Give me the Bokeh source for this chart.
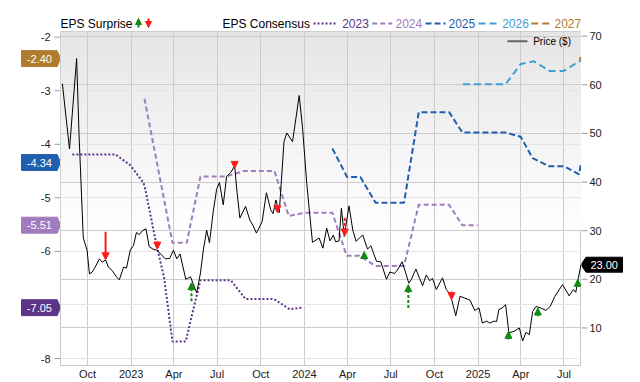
import pandas as pd
from bokeh.plotting import figure
from bokeh.layouts import column, row
from bokeh.core.properties import value
from bokeh.models import (Range1d, FixedTicker, Grid, Arrow, NormalHead, BoxAnnotation, Label)
from bokeh.embed import file_html
from bokeh.resources import INLINE

# ---------------- data ----------------
price_dates = [
    "2022-08-09", "2022-08-24", "2022-09-08", "2022-09-13", "2022-09-22", "2022-09-30",
    "2022-10-05", "2022-10-11", "2022-10-17", "2022-10-26", "2022-11-01", "2022-11-08",
    "2022-11-14", "2022-11-22", "2022-12-01", "2022-12-07", "2022-12-16", "2022-12-22",
    "2022-12-30", "2023-01-06", "2023-01-12", "2023-01-18", "2023-01-25", "2023-02-01",
    "2023-02-08", "2023-02-16", "2023-02-24", "2023-03-06", "2023-03-14", "2023-03-23",
    "2023-03-31", "2023-04-07", "2023-04-14", "2023-04-26", "2023-05-06", "2023-05-12",
    "2023-05-19", "2023-05-27", "2023-06-02", "2023-06-09", "2023-06-15", "2023-06-23",
    "2023-06-30", "2023-07-06", "2023-07-14", "2023-07-21", "2023-07-30", "2023-08-07",
    "2023-08-12", "2023-08-18", "2023-08-30", "2023-09-08", "2023-09-15", "2023-09-22",
    "2023-10-04", "2023-10-13", "2023-10-22", "2023-10-27", "2023-11-02", "2023-11-09",
    "2023-11-19", "2023-11-25", "2023-12-07", "2023-12-14", "2023-12-21", "2023-12-28",
    "2024-01-06", "2024-01-18", "2024-02-01", "2024-02-09", "2024-02-17", "2024-02-24",
    "2024-03-02", "2024-03-07", "2024-03-14", "2024-03-19", "2024-03-25", "2024-04-04",
    "2024-04-12", "2024-04-19", "2024-04-26", "2024-05-03", "2024-05-13", "2024-05-20",
    "2024-06-01", "2024-06-10", "2024-06-22", "2024-06-29", "2024-07-09", "2024-07-15",
    "2024-07-25", "2024-08-01", "2024-08-08", "2024-08-13", "2024-08-23", "2024-09-06",
    "2024-09-14", "2024-09-21", "2024-09-27", "2024-10-05", "2024-10-18", "2024-10-26",
    "2024-11-04", "2024-11-15", "2024-11-24", "2024-12-10", "2024-12-15", "2024-12-25",
    "2025-01-03", "2025-01-10", "2025-01-19", "2025-01-26", "2025-02-04", "2025-02-09",
    "2025-02-14", "2025-02-21", "2025-02-28", "2025-03-07", "2025-03-18", "2025-03-29",
    "2025-04-05", "2025-04-12", "2025-04-19", "2025-04-26", "2025-05-03", "2025-05-13",
    "2025-05-24", "2025-06-02", "2025-06-12", "2025-06-28", "2025-07-12", "2025-07-21",
    "2025-07-26", "2025-07-30", "2025-08-06"]
price_values = [
    60.2, 46.8, 65.4, 50.0, 28.5, 26.0,
    21.1, 21.5, 22.5, 24.2, 23.5, 24.0,
    22.5, 21.8, 20.5, 19.9, 22.5, 22.3,
    26.0, 27.0, 29.6, 29.2, 30.0, 30.4,
    26.7, 26.2, 26.0, 25.0, 24.2, 24.3,
    26.0, 24.2, 25.2, 20.0, 20.5, 19.0,
    17.2, 21.3, 26.0, 30.1, 27.5, 34.0,
    38.5, 39.9, 35.3, 41.1, 42.0, 43.3,
    38.0, 32.6, 35.0, 32.2, 31.0, 29.5,
    31.9, 37.8, 34.3, 33.5, 36.3, 33.7,
    48.3, 50.1, 48.3, 53.0, 57.8, 51.3,
    39.7, 27.6, 28.5, 26.4, 30.5, 27.9,
    29.1, 27.7, 27.9, 34.6, 28.8, 35.1,
    30.1, 27.8, 28.5, 29.1, 26.2, 26.9,
    23.7, 23.6, 20.0, 21.5, 21.2, 21.9,
    23.6, 21.5, 19.2, 19.9, 22.1, 18.7,
    20.9, 19.7, 20.2, 17.9, 20.3, 17.9,
    16.8, 12.5, 16.5, 15.9, 15.7, 13.6,
    14.1, 11.0, 11.4, 11.0, 11.4, 11.3,
    13.8, 14.1, 14.8, 9.0, 9.3, 10.0,
    7.3, 9.1, 8.6, 13.4, 14.4, 14.1,
    13.6, 14.4, 16.5, 18.9, 16.6, 17.9,
    17.3, 19.7, 23.0]

eps2023_dates = ["2022-08-30", "2022-11-29", "2022-12-30", "2023-01-27", "2023-01-31",
                 "2023-02-24", "2023-03-11", "2023-03-29", "2023-04-26", "2023-05-10",
                 "2023-05-27", "2023-07-30", "2023-08-30", "2023-10-29", "2023-12-01",
                 "2023-12-28"]
eps2023_values = [-4.19, -4.19, -4.39, -4.72, -4.85, -5.91, -6.47, -7.68, -7.68, -7.15,
                  -6.54, -6.54, -6.89, -6.89, -7.08, -7.05]

eps2024_dates = ["2023-01-29", "2023-03-29", "2023-04-28", "2023-05-27", "2023-07-21",
                 "2023-08-26", "2023-10-30", "2023-11-29", "2023-12-31", "2024-02-29",
                 "2024-03-30", "2024-04-25", "2024-05-30", "2024-07-29", "2024-08-29",
                 "2024-11-01", "2024-11-29", "2024-12-31"]
eps2024_values = [-3.15, -5.84, -5.84, -4.60, -4.60, -4.50, -4.50, -5.34, -5.28, -5.28,
                  -6.08, -6.08, -6.27, -6.27, -5.13, -5.13, -5.51, -5.51]

eps2025_dates = ["2024-02-29", "2024-03-31", "2024-04-28", "2024-05-30", "2024-07-29",
                 "2024-08-29", "2024-11-01", "2024-11-29", "2025-02-28", "2025-04-01",
                 "2025-04-26", "2025-05-31", "2025-07-01", "2025-08-02", "2025-08-06"]
eps2025_values = [-4.08, -4.61, -4.61, -5.09, -5.09, -3.40, -3.40, -3.78, -3.78, -3.86,
                  -4.26, -4.41, -4.41, -4.56, -4.34]

eps2026_dates = ["2024-11-30", "2025-02-28", "2025-04-01", "2025-04-29", "2025-05-31",
                 "2025-07-01", "2025-08-06"]
eps2026_values = [-2.88, -2.88, -2.50, -2.45, -2.63, -2.63, -2.43]

eps2027_dates = ["2025-08-06"]
eps2027_values = [-2.40]

surprise_dates = ["2022-11-08", "2023-02-25", "2023-05-08", "2023-08-07", "2023-11-05",
                  "2024-03-26", "2024-05-06", "2024-08-07", "2024-11-06", "2025-03-06",
                  "2025-05-07", "2025-07-30"]
surprise_beat = [False, False, True, False, False, False, True, True, False, True, True, True]
surprise_price = [24.0, 26.2, 19.3, 42.8, 33.7, 28.9, 25.7, 18.9, 15.8, 9.3, 14.1, 20.0]
surprise_tail_price = [29.8, 27.8, 15.5, 44.2, 35.1, 32.6, 24.2, 14.1, 17.5, 7.6, 12.4, 18.4]
surprise_dashed = [False, False, True, False, False, True, False, True, False, False, False, False]

x_ticks = ["2022-10-01", "2023-01-01", "2023-04-01", "2023-07-01", "2023-10-01", "2024-01-01",
           "2024-04-01", "2024-07-01", "2024-10-01", "2025-01-01", "2025-04-01", "2025-07-01"]
x_tick_labels = ["Oct", "2023", "Apr", "Jul", "Oct", "2024", "Apr", "Jul", "Oct", "2025", "Apr", "Jul"]
eps_ticks = [-2, -3, -4, -5, -6, -7, -8]
price_ticks = [10, 20, 30, 40, 50, 60, 70]

series_years = ["2023", "2024", "2025", "2026", "2027"]

# ---------------- styles / layout ----------------
FONT = "Liberation Sans"
C2023, C2024, C2025, C2026, C2027 = "#5c3487", "#a07cbd", "#1f5fae", "#40a0d6", "#b07c2e"
RED, GREEN = "#ff1a1a", "#138a13"
TICK_C, LABEL_C, GRID_C = "#999999", "#222222", "#cccccc"
ROW_H, TOP_B, BOT_B = 352, 1, 16
FH = ROW_H - TOP_B - BOT_B
EPS_LO, EPS_HI = -8.130, -1.894
PX_LO, PX_HI = 2.27, 70.96


def ms(d):
    return pd.Timestamp(d).value // 10**6


EPS_RANGE = Range1d(EPS_LO, EPS_HI)
PX_RANGE = Range1d(PX_LO, PX_HI)
X_RANGE = Range1d(ms("2022-08-05"), ms("2025-08-07"))


def bare(width, height, xr, yr, top=0, bottom=0):
    f = figure(width=width, height=height, x_range=xr, y_range=yr, output_backend="svg",
               toolbar_location=None, x_axis_location=None, y_axis_location=None, title=None,
               min_border_left=0, min_border_right=0, min_border_top=top, min_border_bottom=bottom)
    f.outline_line_color = None
    f.grid.visible = False
    f.background_fill_color = "white"
    f.border_fill_color = "white"
    return f


# ---------------- main plot ----------------
p = figure(width=521, height=ROW_H, x_axis_type="datetime", x_range=X_RANGE, y_range=EPS_RANGE,
           y_axis_location=None, output_backend="svg", toolbar_location=None, title=None,
           min_border_left=0, min_border_right=0, min_border_top=TOP_B, min_border_bottom=BOT_B)
p.extra_y_ranges = {"price": PX_RANGE}
p.background_fill_color = "white"
p.border_fill_color = "white"
p.outline_line_color = "#c6c6c6"

xa = p.xaxis[0]
xa.ticker = FixedTicker(ticks=[ms(d) for d in x_ticks])
xa.major_label_overrides = {ms(d): lab for d, lab in zip(x_ticks, x_tick_labels)}
xa.axis_line_color = None
xa.major_tick_line_color = None
xa.minor_tick_line_color = None
xa.major_tick_in = 0
xa.major_tick_out = 0
xa.major_label_standoff = 2
xa.major_label_text_font = FONT
xa.major_label_text_font_size = "11px"
xa.major_label_text_color = LABEL_C

p.xgrid.ticker = xa.ticker
p.xgrid.grid_line_color = GRID_C
p.add_layout(Grid(dimension=1, ticker=FixedTicker(ticks=price_ticks), y_range_name="price",
                  grid_line_color=GRID_C))

# background gradient (top gray -> white)
n = 40
g_top, g_bot = EPS_HI, -5.6
for i in range(n):
    t0 = g_top + (g_bot - g_top) * i / n
    t1 = g_top + (g_bot - g_top) * (i + 1) / n - 0.02
    g = int(round(229 + (255 - 229) * (i + 0.5) / n))
    col = "#%02x%02x%02x" % (g, g, g)
    p.add_layout(BoxAnnotation(top=t0, bottom=t1, fill_color=col, fill_alpha=1.0,
                               line_color=None, level="image"))

p.line(pd.to_datetime(eps2023_dates), eps2023_values, line_color=C2023, line_width=2, line_dash="2 2")
p.line(pd.to_datetime(eps2024_dates), eps2024_values, line_color=C2024, line_width=2, line_dash="5 3")
p.line(pd.to_datetime(eps2025_dates), eps2025_values, line_color=C2025, line_width=2, line_dash="6 3")
p.line(pd.to_datetime(eps2026_dates), eps2026_values, line_color=C2026, line_width=2, line_dash="7 4")
p.scatter(pd.to_datetime(eps2027_dates), eps2027_values, size=3, color=C2027)

p.line(pd.to_datetime(price_dates), price_values, y_range_name="price",
       line_color="black", line_width=1)

for d, tip, tail, beat, dashed in zip(surprise_dates, surprise_price, surprise_tail_price,
                                      surprise_beat, surprise_dashed):
    col = GREEN if beat else RED
    p.add_layout(Arrow(x_start=ms(d), y_start=tail, x_end=ms(d), y_end=tip,
                       y_range_name="price", line_color=col, line_width=2,
                       line_dash="3 2" if dashed else "solid",
                       end=NormalHead(size=7, fill_color=col, line_color=col, line_width=1)))

# price legend (inside plot, top right)
p.add_layout(Arrow(x_start=447, y_start=FH - 10.7, x_end=467, y_end=FH - 10.7, start_units="screen",
                   end_units="screen", end=None, line_color="#666666", line_width=2))
p.add_layout(Label(x=472.7, y=FH - 10.7, x_units="screen", y_units="screen", text="Price ($)",
                   text_align="left", text_baseline="middle", text_color="black",
                   text_font=FONT, text_font_size="10px"))

# ---------------- left gutter: EPS axis + value tags ----------------
lg = bare(60, ROW_H, Range1d(0, 60), EPS_RANGE, TOP_B, BOT_B)
lg.segment(x0=54, y0=eps_ticks, x1=60, y1=eps_ticks, line_color=TICK_C, line_width=1)
lg.text(x=[50] * len(eps_ticks), y=eps_ticks, text=[str(t) for t in eps_ticks],
        text_align="right", text_baseline="middle", text_color=LABEL_C,
        text_font=value(FONT), text_font_size=value("11px"))
tag_vals = [eps2027_values[-1], eps2025_values[-1], eps2024_values[-1], eps2023_values[-1]]
tag_cols = [C2027, C2025, C2024, C2023]
h = 8 * (EPS_HI - EPS_LO) / FH
lg.patches(xs=[[21, 56.7, 60, 56.7, 21] for _ in tag_vals],
           ys=[[v + h, v + h, v, v - h, v - h] for v in tag_vals],
           fill_color=tag_cols, line_color=tag_cols)
lg.text(x=[38.9] * len(tag_vals), y=tag_vals, text=["%.2f" % v for v in tag_vals],
        text_align="center", text_baseline="middle", text_color="white",
        text_font=value(FONT), text_font_size=value("11px"))

# ---------------- right gutter: price axis + last price tag ----------------
rg = bare(59, ROW_H, Range1d(581, 640), PX_RANGE, TOP_B, BOT_B)
rg.segment(x0=581, y0=price_ticks, x1=587, y1=price_ticks, line_color=TICK_C, line_width=1)
rg.text(x=[589] * len(price_ticks), y=price_ticks, text=[str(t) for t in price_ticks],
        text_align="left", text_baseline="middle", text_color=LABEL_C,
        text_font=value(FONT), text_font_size=value("11px"))
pv = price_values[-1]
hp = 7.5 * (PX_HI - PX_LO) / FH
rg.patches(xs=[[580.5, 585.5, 622, 622, 585.5]], ys=[[pv, pv + hp, pv + hp, pv - hp, pv - hp]],
           fill_color="black", line_color="black")
rg.text(x=[603.7], y=[pv], text=["%.2f" % pv], text_align="center", text_baseline="middle",
        text_color="white", text_font=value(FONT), text_font_size=value("11px"))

# ---------------- top legend ----------------
lf = bare(640, 30, Range1d(0, 640), Range1d(30, 0))
LYA = 23
sample_x0 = [313, 371.7, 425, 478, 530.7]
sample_x1 = [336, 391.7, 445, 497, 550.7]
sample_col = [C2023, C2024, C2025, C2026, C2027]
sample_dash = ["2 2", "5 3", "6 3", "7 4", "7 4"]
for x0, x1, col, dash in zip(sample_x0, sample_x1, sample_col, sample_dash):
    lf.segment(x0=[x0], y0=[LYA], x1=[x1], y1=[LYA], line_color=col, line_width=2, line_dash=dash)
leg_x = [60, 222, 341.7, 395, 448, 501.7, 554]
leg_text = ["EPS Surprise", "EPS Consensus"] + series_years
leg_col = ["black", "black"] + sample_col
lf.text(x=leg_x, y=[LYA] * len(leg_x), text=leg_text, text_color=leg_col,
        text_align="left", text_baseline="middle",
        text_font=value(FONT), text_font_size=value("12px"))
lf.add_layout(Arrow(x_start=138, y_start=27, x_end=138, y_end=18, line_color=GREEN, line_width=2,
                    end=NormalHead(size=6, fill_color=GREEN, line_color=GREEN)))
lf.add_layout(Arrow(x_start=148, y_start=18, x_end=148, y_end=27, line_color=RED, line_width=2,
                    end=NormalHead(size=6, fill_color=RED, line_color=RED)))

layout = column(lf, row(lg, p, rg))
open("out.html", "w").write(file_html(layout, INLINE))
